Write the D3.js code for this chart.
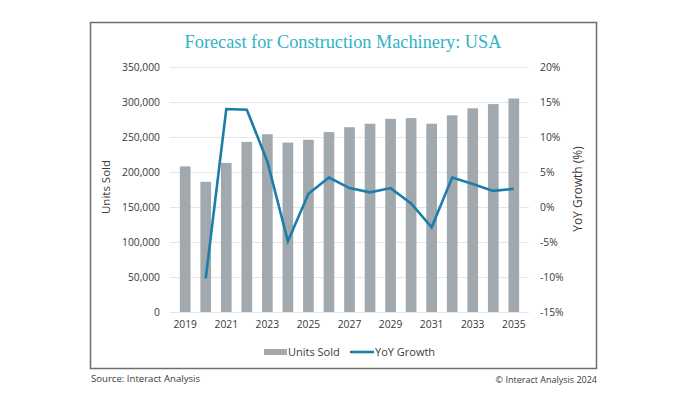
<html lang="en">
<head>
    <meta charset="utf-8">
    <title>Forecast for Construction Machinery: USA</title>
    <style>
        body {
            margin: 0;
            background: white;
        }

        svg text {
            font-family: "Open Sans", "Noto Sans", sans-serif;
            fill: #3a3a3a;
        }

        .grid line {
            stroke: #e3e7ea;
            stroke-width: 1;
        }

        .title {
            font-family: "Liberation Serif", "DejaVu Serif", serif !important;
            fill: #2fb3c6 !important;
        }
    </style>
</head>
<body>
<svg id="chart" width="700" height="393"></svg>
<script src="https://d3js.org/d3.v7.min.js"></script>
<script>
    const years = d3.range(2019, 2036).map(String);
    const unitsSold = [208000, 186000, 213000, 243000, 254000, 242000, 246000, 257000, 264000,
        269000, 276000, 277000, 269000, 281000, 291000, 297000, 305000];
    // growth has no value for the first year
    const yoyGrowth = [null, -10.2, 14.0, 13.9, 6.5, -4.9, 1.9, 4.2, 2.7,
        2.1, 2.7, 0.5, -2.9, 4.2, 3.3, 2.3, 2.6];
    const leftTicks = d3.range(0, 350001, 50000);
    const rightTicks = d3.range(-15, 21, 5);
    const xTickYears = years.filter((d, i) => i % 2 === 0);

    const svg = d3.select("#chart");
    const plot = {left: 170, right: 529, top: 67, bottom: 312};

    const x = d3.scaleBand().domain(years).range([plot.left, plot.right]).padding(0.48);
    const yLeft = d3.scaleLinear().domain([0, 350000]).range([plot.bottom, plot.top]);
    const yRight = d3.scaleLinear().domain([-15, 20]).range([plot.bottom, plot.top]);

    // frame
    svg.append("rect")
        .attr("x", 90.5).attr("y", 22.5)
        .attr("width", 506).attr("height", 346)
        .attr("fill", "none").attr("stroke", "#6e6e6e").attr("stroke-width", 1.5);

    svg.append("text").attr("class", "title")
        .attr("x", 343).attr("y", 48)
        .attr("text-anchor", "middle")
        .style("font-size", "18.3px")
        .text("Forecast for Construction Machinery: USA");

    // gridlines
    svg.append("g").attr("class", "grid")
        .selectAll("line")
        .data(leftTicks)
        .join("line")
        .attr("x1", plot.left).attr("x2", plot.right)
        .attr("y1", d => yLeft(d) + 0.5).attr("y2", d => yLeft(d) + 0.5);

    const leftAxis = svg.append("g")
        .attr("transform", `translate(${plot.left - 10},0)`)
        .call(d3.axisLeft(yLeft).tickValues(leftTicks).tickSize(0).tickPadding(0).tickFormat(d3.format(",")));
    leftAxis.select(".domain").remove();
    leftAxis.selectAll("text").style("font-size", "10.3px").attr("fill", "#3a3a3a");

    const rightAxis = svg.append("g")
        .attr("transform", `translate(${plot.right + 11},0)`)
        .call(d3.axisRight(yRight).tickValues(rightTicks).tickSize(0).tickPadding(0).tickFormat(d => d + "%"));
    rightAxis.select(".domain").remove();
    rightAxis.selectAll("text").style("font-size", "10.3px").attr("fill", "#3a3a3a");

    const xAxis = svg.append("g")
        .attr("transform", `translate(0,${plot.bottom + 9})`)
        .call(d3.axisBottom(x).tickValues(xTickYears).tickSize(0).tickPadding(0));
    xAxis.select(".domain").remove();
    xAxis.selectAll("text").style("font-size", "10.3px").attr("fill", "#3a3a3a");

    // bars
    svg.append("g")
        .selectAll("rect")
        .data(unitsSold)
        .join("rect")
        .attr("x", (d, i) => x(years[i]))
        .attr("width", x.bandwidth())
        .attr("y", d => yLeft(d))
        .attr("height", d => yLeft(0) - yLeft(d))
        .attr("fill", "#a1a9ae");

    // growth line
    const line = d3.line()
        .defined(d => d !== null)
        .x((d, i) => x(years[i]) + x.bandwidth() / 2)
        .y(d => yRight(d));

    svg.append("path")
        .datum(yoyGrowth)
        .attr("d", line)
        .attr("fill", "none")
        .attr("stroke", "#1a7ea8")
        .attr("stroke-width", 2.6)
        .attr("stroke-linejoin", "miter");

    // axis titles
    svg.append("text")
        .attr("transform", "translate(110,187) rotate(-90)")
        .attr("text-anchor", "middle")
        .style("font-size", "11.5px")
        .text("Units Sold");

    svg.append("text")
        .attr("transform", "translate(582,189) rotate(-90)")
        .attr("text-anchor", "middle")
        .style("font-size", "12px")
        .text("YoY Growth (%)");

    // legend
    const legend = svg.append("g").attr("transform", "translate(0,352)");
    legend.append("rect")
        .attr("x", 264).attr("y", -3).attr("width", 23).attr("height", 6)
        .attr("fill", "#a1a9ae");
    legend.append("text")
        .attr("x", 288).attr("dy", "0.35em")
        .style("font-size", "11px")
        .text("Units Sold");
    legend.append("line")
        .attr("x1", 350).attr("x2", 374)
        .attr("stroke", "#1a7ea8").attr("stroke-width", 2.6);
    legend.append("text")
        .attr("x", 375).attr("dy", "0.35em")
        .style("font-size", "11px")
        .text("YoY Growth");

    // footer
    svg.append("text")
        .attr("x", 91).attr("y", 382)
        .style("font-size", "9.6px")
        .attr("fill", "#222")
        .text("Source: Interact Analysis");

    svg.append("text")
        .attr("x", 597).attr("y", 383)
        .attr("text-anchor", "end")
        .style("font-size", "9px")
        .text("© Interact Analysis 2024");
</script>
</body>
</html>
